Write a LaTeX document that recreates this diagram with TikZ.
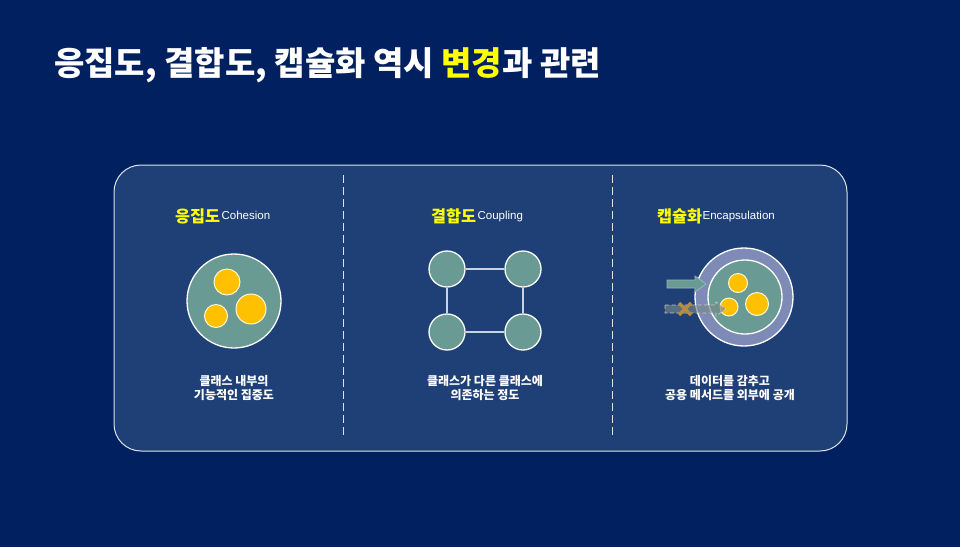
\documentclass[tikz,border=0pt]{standalone}
\usepackage{fontspec}
\setmainfont{Noto Sans CJK KR}
\newfontfamily\latinsub{Liberation Sans}
\definecolor{bgc}{HTML}{002060}
\definecolor{panelc}{HTML}{1F3F77}
\definecolor{tealc}{HTML}{6A9A94}
\definecolor{ycirc}{HTML}{FFC000}
\definecolor{heady}{HTML}{FFFF00}
\definecolor{ringc}{HTML}{7D8BB6}
\definecolor{xmarkc}{HTML}{BA8B3C}
\definecolor{linkc}{HTML}{C9D2E3}
\tikzset{
  desc/.style={inner sep=0pt, text=white, align=center, font=\fontsize{12}{14.5}\selectfont\bfseries},
  head/.style={inner sep=0pt, text=heady, font=\fontsize{16.3}{17}\selectfont\bfseries},
  sub/.style={inner sep=0pt, text=white, font=\latinsub\fontsize{11.5}{12}\selectfont},
  ball/.style={circle, fill=tealc, draw=white, line width=1.3pt, inner sep=0pt},
  dot/.style={circle, fill=ycirc, draw=white!85!ycirc, line width=1pt, inner sep=0pt},
  link/.style={draw=linkc, line width=1.5pt},
  divider/.style={draw=white!85!panelc, line width=1pt, dash pattern=on 8pt off 4pt},
  panelbox/.style={draw=white!85!panelc, fill=panelc, line width=1pt, rounded corners=27pt, minimum width=733pt, minimum height=286pt, inner sep=0pt},
}
\begin{document}
\begin{tikzpicture}[x=1pt,y=-1pt]
\fill[bgc] (0,0) rectangle (960,547);
\useasboundingbox (0,0) rectangle (960,547);

\node[anchor=west, inner sep=0pt, text=white, font=\fontsize{33}{33}\selectfont\bfseries] (title) at (54,65)
  {응집도, 결합도, 캡슐화 역시 \textcolor{heady}{변경}과 관련};

\node[panelbox] (panel) at (480.5,308) {};
\draw[divider] (343,175) -- (343,437);
\draw[divider] (612,175) -- (612,437);

% Cohesion
\node[head, anchor=west] (cohH) at (175,216) {응집도};
\node[sub, anchor=north west] (cohS) at ([xshift=1pt,yshift=-3pt]cohH.north east) {Cohesion};
\node[ball, minimum size=94pt] (coh) at (234,301) {};
\node[dot, minimum size=26pt] (coh1) at (227,282) {};
\node[dot, minimum size=30pt] (coh2) at (251,309) {};
\node[dot, minimum size=23pt] (coh3) at (216,316) {};
\node[desc] (cohD) at (234,388) {클래스 내부의\\기능적인 집중도};

% Coupling
\node[head, anchor=west] (couH) at (431,216) {결합도};
\node[sub, anchor=north west] (couS) at ([xshift=1pt,yshift=-3pt]couH.north east) {Coupling};
\node[ball, minimum size=36pt] (c1) at (447,269) {};
\node[ball, minimum size=36pt] (c2) at (523,269) {};
\node[ball, minimum size=36pt] (c3) at (447,332) {};
\node[ball, minimum size=36pt] (c4) at (523,332) {};
\draw[link] (c1) -- (c2);
\draw[link] (c3) -- (c4);
\draw[link] (c1) -- (c3);
\draw[link] (c2) -- (c4);
\node[desc] (couD) at (485,388) {클래스가 다른 클래스에\\의존하는 정도};

% Encapsulation
\node[head, anchor=west] (encH) at (657,216) {캡슐화};
\node[sub, anchor=north west] (encS) at ([xshift=0pt,yshift=-3pt]encH.north east) {Encapsulation};
\node[circle, fill=ringc, draw=white, line width=1.3pt, inner sep=0pt, minimum size=98pt] (encO) at (744,297) {};
\node[ball, minimum size=74pt] (encI) at (745,297) {};
\node[dot, minimum size=19pt] (e1) at (738,283) {};
\node[dot, minimum size=23pt] (e2) at (757,304) {};
\node[dot, minimum size=18pt] (e3) at (729,307) {};
\fill[tealc, draw=tealc!70!white, line width=0.8pt]
  (667,280) -- (695,280) -- (695,276) -- (706,284) -- (695,292) -- (695,288) -- (667,288) -- cycle;
\fill[gray!60!tealc, fill opacity=0.65, draw=white!70!gray, draw opacity=0.8, line width=0.8pt, dash pattern=on 4pt off 2.5pt]
  (665,305) -- (716,305) -- (716,302) -- (726,309) -- (716,316) -- (716,313) -- (665,313) -- cycle;
\draw[xmarkc, line width=3.5pt] (679,303) -- (691,315) (679,315) -- (691,303);
\node[desc] (encD) at (730,388) {데이터를 감추고\\공용 메서드를 외부에 공개};
\end{tikzpicture}
\end{document}
